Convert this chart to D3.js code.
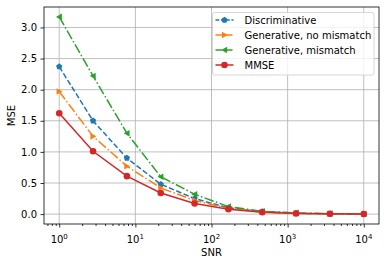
<!DOCTYPE html>
<html>
<head>
<meta charset="utf-8">
<script src="https://cdn.jsdelivr.net/npm/d3@7"></script>
<style>
  body { margin: 0; background: #fff; }
</style>
</head>
<body>
<svg id="chart" width="386" height="266"></svg>
<script>
const snr = [1, 2.78, 7.74, 21.54, 59.95, 166.8, 464.2, 1291.5, 3593.8, 10000];
const discriminative = [2.37, 1.50, 0.90, 0.48, 0.25, 0.10, 0.04, 0.015, 0.005, 0.002];
const genNoMismatch = [1.97, 1.25, 0.77, 0.42, 0.22, 0.09, 0.035, 0.012, 0.004, 0.001];
const genMismatch = [3.17, 2.22, 1.30, 0.60, 0.32, 0.12, 0.045, 0.02, 0.007, 0.002];
const mmse = [1.62, 1.01, 0.61, 0.34, 0.17, 0.08, 0.03, 0.01, 0.005, 0.001];
const yTicks = [0.0, 0.5, 1.0, 1.5, 2.0, 2.5, 3.0];
const xTicks = [1, 10, 100, 1000, 10000];

const series = [
  { name: 'Discriminative', values: discriminative, color: '#1f77b4', dash: '5.5,2.4', marker: 'pentagon' },
  { name: 'Generative, no mismatch', values: genNoMismatch, color: '#ff7f0e', dash: '9.6,2.4,1.5,2.4', marker: 'right' },
  { name: 'Generative, mismatch', values: genMismatch, color: '#2ca02c', dash: '9.6,2.4,1.5,2.4', marker: 'left' },
  { name: 'MMSE', values: mmse, color: '#d62728', dash: null, marker: 'circle' }
];

const FONT = 'DejaVu Sans';
const margin = { left: 44, right: 7, top: 7, bottom: 42 };
const width = 386, height = 266;
const svg = d3.select('#chart');

const x = d3.scaleLog()
  .domain([Math.pow(10, -0.2), Math.pow(10, 4.2)])
  .range([margin.left, width - margin.right]);
const y = d3.scaleLinear()
  .domain([-0.159, 3.329])
  .range([height - margin.bottom, margin.top]);

// grid
const grid = svg.append('g');
xTicks.forEach(t => {
  grid.append('line')
    .attr('x1', x(t)).attr('x2', x(t))
    .attr('y1', y.range()[0]).attr('y2', y.range()[1])
    .attr('stroke', '#b0b0b0').attr('stroke-width', 0.8);
});
yTicks.forEach(t => {
  grid.append('line')
    .attr('x1', x.range()[0]).attr('x2', x.range()[1])
    .attr('y1', y(t)).attr('y2', y(t))
    .attr('stroke', '#b0b0b0').attr('stroke-width', 0.8);
});

// axes
const xAxis = svg.append('g')
  .attr('transform', `translate(0,${height - margin.bottom})`)
  .call(d3.axisBottom(x).tickValues(xTicks).tickSize(3.5).tickFormat(''));
const minor = [];
for (let e = -1; e < 5; e++) {
  for (let k = 2; k < 10; k++) {
    const v = k * Math.pow(10, e);
    if (v > x.domain()[0] && v < x.domain()[1]) minor.push(v);
  }
}
svg.append('g')
  .attr('transform', `translate(0,${height - margin.bottom})`)
  .call(d3.axisBottom(x).tickValues(minor).tickSize(2).tickFormat(''))
  .call(g => g.select('.domain').remove());

xTicks.forEach((t, i) => {
  const txt = xAxis.append('text')
    .attr('x', x(t))
    .attr('y', 18.5)
    .attr('text-anchor', 'middle')
    .attr('fill', '#000')
    .attr('font-size', 10);
  txt.append('tspan').text('10');
  txt.append('tspan').attr('font-size', 7).attr('dy', -4).text(i);
});

svg.append('g')
  .attr('transform', `translate(${margin.left},0)`)
  .call(d3.axisLeft(y).tickValues(yTicks).tickSize(3.5).tickPadding(3.5).tickFormat(d3.format('.1f')))
  .call(g => g.selectAll('text').attr('font-size', 10).attr('fill', '#000'));

svg.selectAll('.domain').remove();
svg.selectAll('.tick line').attr('stroke', '#000').attr('stroke-width', 0.8);

// frame
svg.append('rect')
  .attr('x', margin.left).attr('y', margin.top)
  .attr('width', width - margin.left - margin.right)
  .attr('height', height - margin.top - margin.bottom)
  .attr('fill', 'none').attr('stroke', '#000').attr('stroke-width', 0.8);

// labels
svg.append('text')
  .attr('x', (margin.left + width - margin.right) / 2)
  .attr('y', 256)
  .attr('text-anchor', 'middle')
  .attr('font-size', 10)
  .text('SNR');
svg.append('text')
  .attr('transform', `translate(15,${(margin.top + height - margin.bottom) / 2}) rotate(-90)`)
  .attr('text-anchor', 'middle')
  .attr('font-size', 10)
  .text('MSE');

function markerPath(type, r) {
  if (type === 'circle') return d3.symbol(d3.symbolCircle, Math.PI * r * r)();
  if (type === 'pentagon') {
    const pts = d3.range(5).map(i => {
      const a = -Math.PI / 2 + i * 2 * Math.PI / 5;
      return [r * Math.cos(a), r * Math.sin(a)];
    });
    return 'M' + pts.join('L') + 'Z';
  }
  if (type === 'right') return `M${r},0L${-r * 0.8},${-r}L${-r * 0.8},${r}Z`;
  if (type === 'left') return `M${-r},0L${r * 0.8},${-r}L${r * 0.8},${r}Z`;
}

const line = d3.line().x(d => x(d[0])).y(d => y(d[1]));
const plot = svg.append('g');
series.forEach(s => {
  const pts = snr.map((v, i) => [v, s.values[i]]);
  plot.append('path')
    .attr('d', line(pts))
    .attr('fill', 'none')
    .attr('stroke', s.color)
    .attr('stroke-width', 1.5)
    .attr('stroke-dasharray', s.dash);
  plot.selectAll(null)
    .data(pts)
    .enter()
    .append('path')
    .attr('transform', d => `translate(${x(d[0])},${y(d[1])})`)
    .attr('d', markerPath(s.marker, 3.3))
    .attr('fill', s.color);
});

// legend
const lg = svg.append('g').attr('transform', 'translate(212.5,12.5)');
lg.append('rect')
  .attr('width', 161.5).attr('height', 62.5)
  .attr('rx', 2).attr('ry', 2)
  .attr('fill', 'rgba(255,255,255,0.8)')
  .attr('stroke', '#cccccc').attr('stroke-width', 0.8);
series.forEach((s, i) => {
  const yy = 7.5 + i * 15;
  lg.append('line')
    .attr('x1', 3).attr('x2', 21)
    .attr('y1', yy).attr('y2', yy)
    .attr('stroke', s.color).attr('stroke-width', 1.5)
    .attr('stroke-dasharray', s.dash ? (s.marker === 'pentagon' ? '3.7,1.6' : '6.4,1.6,1,1.6') : null);
  lg.append('path')
    .attr('transform', `translate(12,${yy})`)
    .attr('d', markerPath(s.marker, 3.3))
    .attr('fill', s.color);
  lg.append('text')
    .attr('x', 32).attr('y', yy + 3.6)
    .attr('font-size', 10)
    .text(s.name);
});

svg.selectAll('text').attr('font-family', FONT);
svg.selectAll('g').attr('font-family', FONT);
</script>
</body>
</html>
